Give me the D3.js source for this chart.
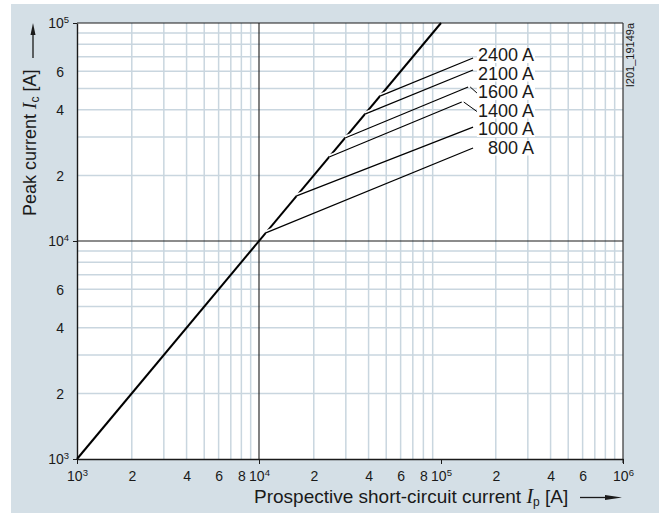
<!DOCTYPE html>
<html><head><meta charset="utf-8">
<script src="https://cdn.jsdelivr.net/npm/d3@7"></script>
<style>
html,body{margin:0;padding:0;background:#fff;}
svg{display:block;font-family:"Liberation Sans",Arial,sans-serif;}
</style></head><body>
<svg id="chart" width="659" height="513"></svg>
<script>
// ---------------- data ----------------
const ratings = ["2400 A", "2100 A", "1600 A", "1400 A", "1000 A", "800 A"];
const startIp = [46200, 38200, 29700, 24300, 16100, 10900];
const startIc = [46200, 38200, 29700, 24300, 16100, 10900];
const endIp   = [150000, 150000, 141000, 130000, 150000, 150000];
const endIc   = [69100, 60900, 50900, 43400, 33300, 26700];
const diagIp = [1e3, 1e5];
const diagIc = [1e3, 1e5];
const xTickValues = [1e3, 2e3, 4e3, 6e3, 8e3, 1e4, 2e4, 4e4, 6e4, 8e4, 1e5, 2e5, 4e5, 6e5, 1e6];
const yTickValues = [1e3, 2e3, 4e3, 6e3, 1e4, 2e4, 4e4, 6e4, 1e5];
const leaderFor = ["1600 A", "1400 A"];

// ---------------- layout ----------------
const W = 659, H = 513;
const M = {left: 77, top: 23, right: 623, bottom: 459};
const BG = "#d4dfe6", GRID = "#c9d6df", INK = "#1a1a1a";

const svg = d3.select("#chart");
svg.append("rect").attr("x", 11).attr("y", 4).attr("width", W - 11).attr("height", H - 4).attr("fill", BG);

const x = d3.scaleLog().domain([1e3, 1e6]).range([M.left, M.right]);
const y = d3.scaleLog().domain([1e3, 1e5]).range([M.bottom, M.top]);

svg.append("rect").attr("x", M.left).attr("y", M.top)
  .attr("width", M.right - M.left).attr("height", M.bottom - M.top).attr("fill", "#fff");

const isDecade = v => Math.abs(Math.log10(v) - Math.round(Math.log10(v))) < 1e-9;

// grid
const grid = svg.append("g");
grid.selectAll("line.gx").data(x.ticks().filter(v => !isDecade(v))).join("line")
  .attr("x1", d => x(d)).attr("x2", d => x(d)).attr("y1", M.top).attr("y2", M.bottom)
  .attr("stroke", GRID).attr("stroke-width", 1.5);
grid.selectAll("line.gy").data(y.ticks().filter(v => !isDecade(v))).join("line")
  .attr("y1", d => y(d)).attr("y2", d => y(d)).attr("x1", M.left).attr("x2", M.right)
  .attr("stroke", GRID).attr("stroke-width", 1.5);
// 10^4 lines
grid.append("line").attr("x1", x(1e4)).attr("x2", x(1e4)).attr("y1", M.top).attr("y2", M.bottom).attr("stroke", INK).attr("stroke-width", 1.1);
grid.append("line").attr("y1", y(1e4)).attr("y2", y(1e4)).attr("x1", M.left).attr("x2", M.right).attr("stroke", INK).attr("stroke-width", 1.1);

// frame
const frame = svg.append("g").attr("stroke", INK);
frame.append("line").attr("x1", M.left).attr("x2", M.right).attr("y1", M.top).attr("y2", M.top).attr("stroke-width", 1.2);
frame.append("line").attr("x1", M.right).attr("x2", M.right).attr("y1", M.top).attr("y2", M.bottom + 4).attr("stroke", "#333").attr("stroke-width", 1.2);

// axes
function superscriptLabel(sel) {
  sel.each(function(d) {
    const t = d3.select(this);
    t.text(null);
    if (isDecade(d)) {
      t.append("tspan").text("10");
      t.append("tspan").attr("dy", -5).attr("font-size", 9.5).text(String(Math.round(Math.log10(d))));
    } else {
      t.append("tspan").text(String(Math.round(d / Math.pow(10, Math.floor(Math.log10(d) + 1e-9)))));
    }
  });
}

const xAxis = d3.axisBottom(x).tickValues(xTickValues).tickSizeInner(5).tickSizeOuter(0).tickPadding(0).tickFormat(() => "");
const gX = svg.append("g").attr("transform", `translate(0,${M.bottom})`).call(xAxis);
gX.attr("font-family", null).attr("font-size", 14);
gX.select(".domain").attr("stroke", INK).attr("stroke-width", 1.4);
gX.selectAll(".tick line").attr("stroke", INK).attr("display", d => isDecade(d) ? null : "none");
gX.selectAll(".tick text").attr("y", 22).attr("dy", 0).attr("fill", INK).call(superscriptLabel);

const yAxis = d3.axisLeft(y).tickValues(yTickValues).tickSizeInner(4).tickSizeOuter(0).tickPadding(9).tickFormat(() => "");
const gY = svg.append("g").attr("transform", `translate(${M.left},0)`).call(yAxis);
gY.attr("font-family", null).attr("font-size", 14);
gY.select(".domain").attr("stroke", INK).attr("stroke-width", 1.4);
gY.selectAll(".tick line").attr("stroke", INK).attr("display", d => isDecade(d) ? null : "none");
gY.selectAll(".tick text").attr("fill", INK).attr("dy", "0.35em")
  .attr("x", d => isDecade(d) ? -8 : -13).call(superscriptLabel);

// ---------------- marks ----------------
const plot = svg.append("g");
const line = d3.line().x(d => x(d[0])).y(d => y(d[1]));
plot.append("path").datum(d3.zip(diagIp, diagIc)).attr("d", line)
  .attr("fill", "none").attr("stroke", "#000").attr("stroke-width", 2);

// branch casings (small white gaps where they leave the diagonal)
ratings.forEach((r, i) => {
  const x0 = x(startIp[i]), y0 = y(startIc[i]);
  const x1 = x(endIp[i]), y1 = y(endIc[i]);
  const len = Math.hypot(x1 - x0, y1 - y0);
  const k = 9 / len;
  plot.append("line").attr("x1", x0).attr("y1", y0).attr("x2", x0 + (x1 - x0) * k).attr("y2", y0 + (y1 - y0) * k)
    .attr("stroke", "#fff").attr("stroke-width", 4.5);
});
plot.selectAll("line.branch").data(ratings).join("line").attr("class", "branch")
  .attr("x1", (d, i) => x(startIp[i])).attr("y1", (d, i) => y(startIc[i]))
  .attr("x2", (d, i) => x(endIp[i])).attr("y2", (d, i) => y(endIc[i]))
  .attr("stroke", "#000").attr("stroke-width", 1.2);

// labels
const lab = svg.append("g").attr("font-size", 18).attr("fill", INK).attr("text-anchor", "end");
ratings.forEach((r, i) => {
  const t = lab.append("text").attr("x", 534).attr("y", 61 + i * 18.5).text(r);
  const b = t.node().getBBox();
  lab.insert("rect", "text").attr("x", b.x - 1).attr("y", b.y + 3).attr("width", b.width + 2).attr("height", b.height - 5).attr("fill", "#fff");
  if (leaderFor.includes(r)) {
    const ex = x(endIp[i]) + 2, ey = y(endIc[i]);
    lab.append("line").attr("x1", ex).attr("y1", ey).attr("x2", b.x - 1).attr("y2", b.y + b.height * 0.55)
      .attr("stroke", "#000").attr("stroke-width", 1);
  }
});

// axis titles
const yt = svg.append("text").attr("transform", "translate(36,216) rotate(-90)").attr("font-size", 18).attr("fill", INK);
yt.append("tspan").text("Peak current ");
yt.append("tspan").attr("font-family", "'Liberation Serif',serif").attr("font-style", "italic").attr("font-size", 19).text("I");
yt.append("tspan").attr("font-size", 12).attr("dy", 3).text("c");
yt.append("tspan").attr("dy", -3).text(" [A]");
svg.append("line").attr("x1", 33).attr("x2", 33).attr("y1", 58).attr("y2", 34).attr("stroke", INK).attr("stroke-width", 1.3);
svg.append("path").attr("d", "M33,23 L30.5,35 L35.5,35 Z").attr("fill", INK);

const xt = svg.append("text").attr("x", 254).attr("y", 503).attr("font-size", 19).attr("fill", INK);
xt.append("tspan").text("Prospective short-circuit current ");
xt.append("tspan").attr("font-family", "'Liberation Serif',serif").attr("font-style", "italic").attr("font-size", 20).text("I");
xt.append("tspan").attr("font-size", 12).attr("dy", 3).text("p");
xt.append("tspan").attr("dy", -3).text(" [A]");
svg.append("line").attr("x1", 580).attr("x2", 608).attr("y1", 497.5).attr("y2", 497.5).attr("stroke", INK).attr("stroke-width", 1.3);
svg.append("path").attr("d", "M622,497.5 L605,495 L605,500 Z").attr("fill", INK);

// drawing code
svg.append("text").attr("transform", "translate(634,23) rotate(-90)").attr("text-anchor", "end")
  .attr("font-size", 11).attr("fill", INK).text("I201_19149a");
</script>
</body></html>
